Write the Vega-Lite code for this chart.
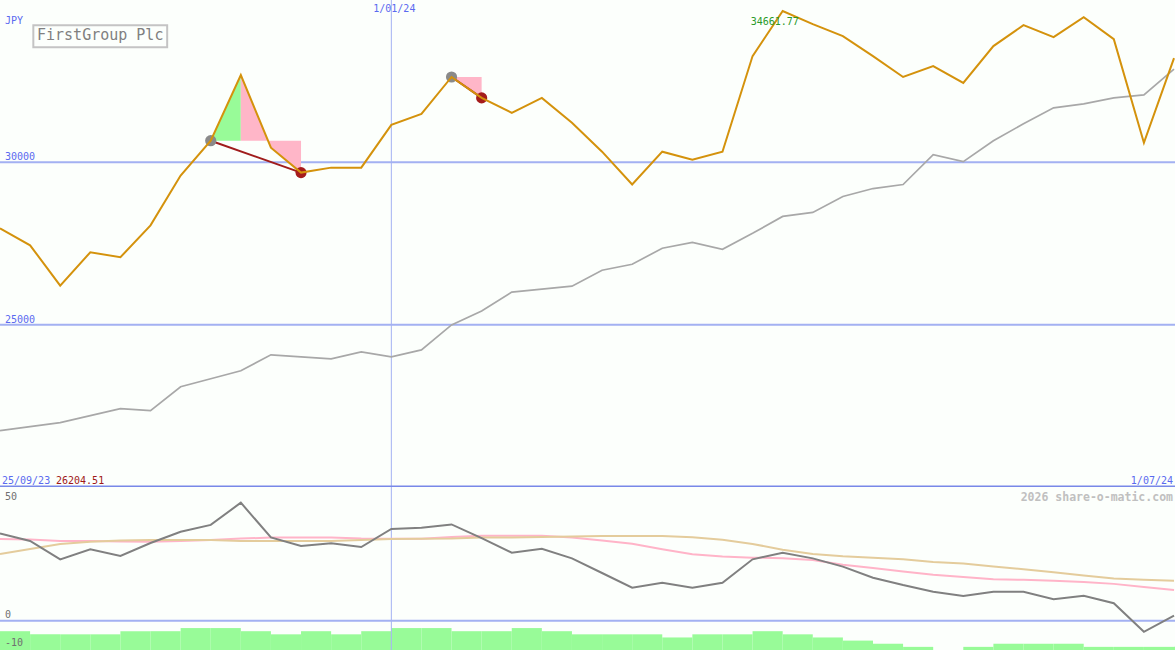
{
  "$schema": "https://vega.github.io/schema/vega-lite/v6.json",
  "padding": 0,
  "background": "#fcfffc",
  "bounds": "flush",
  "spacing": 0,
  "config": {
    "view": {"stroke": null},
    "axis": {"disable": true},
    "legend": {"disable": true},
    "scale": {"continuousPadding": 0},
    "text": {"font": "DejaVu Sans Mono", "fontSize": 10, "baseline": "alphabetic"}
  },
  "datasets": {
    "weeks": [
      {"date": "2023-10-02", "close": 27966, "trend": 21739, "osc": 37.0, "signal": 34.6, "slow": 28.3, "count": 6},
      {"date": "2023-10-09", "close": 27445, "trend": 21862, "osc": 33.8, "signal": 34.4, "slow": 30.4, "count": 5},
      {"date": "2023-10-16", "close": 26204.51, "trend": 21985, "osc": 26.0, "signal": 33.8, "slow": 32.5, "count": 5},
      {"date": "2023-10-23", "close": 27230, "trend": 22199, "osc": 30.3, "signal": 33.8, "slow": 33.5, "count": 5},
      {"date": "2023-10-30", "close": 27077, "trend": 22414, "osc": 27.4, "signal": 33.6, "slow": 34.0, "count": 6},
      {"date": "2023-11-06", "close": 28058, "trend": 22353, "osc": 32.9, "signal": 33.5, "slow": 34.2, "count": 6},
      {"date": "2023-11-13", "close": 29592, "trend": 23089, "osc": 37.7, "signal": 33.8, "slow": 34.2, "count": 7},
      {"date": "2023-11-20", "close": 30666, "trend": 23334, "osc": 40.6, "signal": 34.2, "slow": 34.2, "count": 7},
      {"date": "2023-11-27", "close": 32690, "trend": 23580, "osc": 50.0, "signal": 34.8, "slow": 33.8, "count": 6},
      {"date": "2023-12-04", "close": 30451, "trend": 24070, "osc": 35.3, "signal": 35.2, "slow": 33.8, "count": 5},
      {"date": "2023-12-11", "close": 29684, "trend": 24009, "osc": 31.7, "signal": 35.2, "slow": 33.8, "count": 6},
      {"date": "2023-12-18", "close": 29837, "trend": 23948, "osc": 32.8, "signal": 35.2, "slow": 33.8, "count": 5},
      {"date": "2023-12-25", "close": 29837, "trend": 24163, "osc": 31.2, "signal": 34.8, "slow": 34.2, "count": 6},
      {"date": "2024-01-01", "close": 31156, "trend": 24009, "osc": 38.9, "signal": 34.7, "slow": 34.6, "count": 7},
      {"date": "2024-01-08", "close": 31494, "trend": 24224, "osc": 39.4, "signal": 34.7, "slow": 34.7, "count": 7},
      {"date": "2024-01-15", "close": 32629, "trend": 24991, "osc": 40.8, "signal": 35.5, "slow": 34.8, "count": 6},
      {"date": "2024-01-22", "close": 31985, "trend": 25420, "osc": 35.0, "signal": 36.0, "slow": 35.2, "count": 6},
      {"date": "2024-01-29", "close": 31525, "trend": 26003, "osc": 28.8, "signal": 36.0, "slow": 35.2, "count": 7},
      {"date": "2024-02-05", "close": 31985, "trend": 26095, "osc": 30.5, "signal": 36.0, "slow": 35.5, "count": 6},
      {"date": "2024-02-12", "close": 31218, "trend": 26187, "osc": 26.4, "signal": 35.3, "slow": 35.7, "count": 5},
      {"date": "2024-02-19", "close": 30328, "trend": 26678, "osc": 20.2, "signal": 34.0, "slow": 35.9, "count": 5},
      {"date": "2024-02-26", "close": 29316, "trend": 26862, "osc": 14.0, "signal": 32.6, "slow": 35.9, "count": 5},
      {"date": "2024-03-04", "close": 30328, "trend": 27353, "osc": 16.1, "signal": 30.3, "slow": 35.9, "count": 4},
      {"date": "2024-03-11", "close": 30083, "trend": 27537, "osc": 14.0, "signal": 28.2, "slow": 35.4, "count": 5},
      {"date": "2024-03-18", "close": 30328, "trend": 27322, "osc": 16.1, "signal": 27.2, "slow": 34.3, "count": 5},
      {"date": "2024-03-25", "close": 33273, "trend": 27813, "osc": 26.0, "signal": 26.7, "slow": 32.5, "count": 6},
      {"date": "2024-04-01", "close": 34661.77, "trend": 28334, "osc": 28.8, "signal": 26.5, "slow": 30.1, "count": 5},
      {"date": "2024-04-08", "close": 34255, "trend": 28457, "osc": 26.4, "signal": 25.7, "slow": 28.3, "count": 4},
      {"date": "2024-04-15", "close": 33887, "trend": 28948, "osc": 22.9, "signal": 23.7, "slow": 27.3, "count": 3},
      {"date": "2024-04-22", "close": 33273, "trend": 29193, "osc": 18.2, "signal": 22.3, "slow": 26.7, "count": 2},
      {"date": "2024-04-29", "close": 32629, "trend": 29316, "osc": 15.1, "signal": 20.8, "slow": 26.0, "count": 1},
      {"date": "2024-05-06", "close": 32966, "trend": 30236, "osc": 12.3, "signal": 19.5, "slow": 24.9, "count": 0},
      {"date": "2024-05-13", "close": 32445, "trend": 30021, "osc": 10.5, "signal": 18.5, "slow": 24.2, "count": 1},
      {"date": "2024-05-20", "close": 33580, "trend": 30666, "osc": 12.3, "signal": 17.6, "slow": 23.0, "count": 2},
      {"date": "2024-05-27", "close": 34224, "trend": 31187, "osc": 12.3, "signal": 17.3, "slow": 21.8, "count": 2},
      {"date": "2024-06-03", "close": 33856, "trend": 31678, "osc": 9.1, "signal": 16.9, "slow": 20.5, "count": 2},
      {"date": "2024-06-10", "close": 34469, "trend": 31801, "osc": 10.6, "signal": 16.4, "slow": 19.1, "count": 1},
      {"date": "2024-06-17", "close": 33794, "trend": 31985, "osc": 7.4, "signal": 15.6, "slow": 17.9, "count": 1},
      {"date": "2024-06-24", "close": 30604, "trend": 32077, "osc": -4.7, "signal": 14.3, "slow": 17.3, "count": 1},
      {"date": "2024-07-01", "close": 33212, "trend": 32874, "osc": 2.1, "signal": 13.0, "slow": 16.9, "count": 1}
    ],
    "fills": [
      {"date": "2023-11-20", "close": 30666, "base": 30666, "kind": "rise", "leg": "a"},
      {"date": "2023-11-27", "close": 32690, "base": 30666, "kind": "rise", "leg": "a"},
      {"date": "2023-11-27", "close": 32690, "base": 30666, "kind": "fall", "leg": "b"},
      {"date": "2023-12-04", "close": 30451, "base": 30666, "kind": "fall", "leg": "b"},
      {"date": "2023-12-11", "close": 29684, "base": 30666, "kind": "fall", "leg": "b"},
      {"date": "2024-01-15", "close": 32629, "base": 32629, "kind": "fall", "leg": "c"},
      {"date": "2024-01-22", "close": 31985, "base": 32629, "kind": "fall", "leg": "c"}
    ],
    "trades": [
      {"date": "2023-11-20", "close": 30666, "event": "entry", "trade": 1},
      {"date": "2023-12-11", "close": 29684, "event": "exit", "trade": 1},
      {"date": "2024-01-15", "close": 32629, "event": "entry", "trade": 2},
      {"date": "2024-01-22", "close": 31985, "event": "exit", "trade": 2}
    ],
    "levels": [
      {"level": 30000, "label": "30000"},
      {"level": 25000, "label": "25000"}
    ],
    "one": [{}]
  },
  "vconcat": [
    {
      "width": 1175,
      "height": 487,
      "layer": [
        {
          "data": {"name": "levels"},
          "mark": {"type": "rule", "color": "#a3b1f2", "strokeWidth": 2, "clip": true},
          "encoding": {
            "y": {"field": "level", "type": "quantitative", "scale": {"domain": [20000, 35000], "nice": false, "zero": false}}
          }
        },
        {
          "data": {"name": "one"},
          "mark": {"type": "rule", "color": "#a3b1f2", "strokeWidth": 1, "clip": true},
          "encoding": {
            "x": {"datum": {"year": 2024, "month": 1, "date": 1, "utc": true}, "type": "temporal",
                  "scale": {"type": "utc", "nice": false, "padding": 0, "domain": [{"year": 2023, "month": 10, "date": 2, "utc": true}, {"year": 2024, "month": 7, "date": 1, "hours": 5, "minutes": 30, "utc": true}]}}
          }
        },
        {
          "data": {"name": "one"},
          "mark": {"type": "rule", "color": "#7888e8", "strokeWidth": 2, "clip": true},
          "encoding": {
            "y": {"datum": 20015, "type": "quantitative"}
          }
        },
        {
          "data": {"name": "fills"},
          "mark": {"type": "area", "opacity": 1, "clip": true},
          "encoding": {
            "x": {"field": "date", "type": "temporal"},
            "y": {"field": "close", "type": "quantitative"},
            "y2": {"field": "base"},
            "detail": {"field": "leg"},
            "color": {"field": "kind", "type": "nominal", "scale": {"domain": ["rise", "fall", "entry", "exit"], "range": ["#98fb98", "#ffb6c8", "#8a8a8a", "#a51c1c"]}}
          }
        },
        {
          "data": {"name": "trades"},
          "mark": {"type": "line", "color": "#a01c1c", "strokeWidth": 2, "clip": true},
          "encoding": {
            "x": {"field": "date", "type": "temporal"},
            "y": {"field": "close", "type": "quantitative"},
            "detail": {"field": "trade"}
          }
        },
        {
          "data": {"name": "weeks"},
          "mark": {"type": "line", "color": "#a8a8a8", "strokeWidth": 1.7, "clip": true},
          "encoding": {
            "x": {"field": "date", "type": "temporal"},
            "y": {"field": "trend", "type": "quantitative"}
          }
        },
        {
          "data": {"name": "trades"},
          "mark": {"type": "point", "filled": true, "opacity": 1, "size": 125},
          "encoding": {
            "x": {"field": "date", "type": "temporal"},
            "y": {"field": "close", "type": "quantitative"},
            "color": {"field": "event", "type": "nominal"}
          }
        },
        {
          "data": {"name": "weeks"},
          "mark": {"type": "line", "color": "#d4920c", "strokeWidth": 2, "clip": true},
          "encoding": {
            "x": {"field": "date", "type": "temporal"},
            "y": {"field": "close", "type": "quantitative"}
          }
        },
        {
          "data": {"name": "levels"},
          "mark": {"type": "text", "align": "left", "dx": 5, "dy": -2, "color": "#5a6af0"},
          "encoding": {
            "x": {"datum": {"year": 2023, "month": 10, "date": 2, "utc": true}, "type": "temporal"},
            "y": {"field": "level", "type": "quantitative"},
            "text": {"field": "label"}
          }
        },
        {
          "data": {"name": "one"},
          "mark": {"type": "text", "text": "JPY", "align": "left", "dx": 5, "dy": 24, "color": "#5a6af0"},
          "encoding": {
            "x": {"datum": {"year": 2023, "month": 10, "date": 2, "utc": true}, "type": "temporal"},
            "y": {"datum": 35000, "type": "quantitative"}
          }
        },
        {
          "data": {"name": "one"},
          "mark": {"type": "text", "text": "1/01/24", "align": "center", "dx": 3, "dy": 12, "color": "#5a6af0"},
          "encoding": {
            "x": {"datum": {"year": 2024, "month": 1, "date": 1, "utc": true}, "type": "temporal"},
            "y": {"datum": 35000, "type": "quantitative"}
          }
        },
        {
          "data": {"name": "one"},
          "mark": {"type": "rect", "filled": false, "stroke": "#c4c4c4", "strokeWidth": 2},
          "encoding": {
            "x": {"datum": {"year": 2023, "month": 10, "date": 9, "hours": 18, "utc": true}, "type": "temporal"},
            "x2": {"datum": {"year": 2023, "month": 11, "date": 9, "hours": 21, "utc": true}},
            "y": {"datum": 34221, "type": "quantitative"},
            "y2": {"datum": 33543}
          }
        },
        {
          "data": {"name": "one"},
          "mark": {"type": "text", "text": "FirstGroup Plc", "align": "left", "dx": 37, "dy": 40, "fontSize": 15, "color": "#808080"},
          "encoding": {
            "x": {"datum": {"year": 2023, "month": 10, "date": 2, "utc": true}, "type": "temporal"},
            "y": {"datum": 35000, "type": "quantitative"}
          }
        },
        {
          "data": {"name": "one"},
          "mark": {"type": "text", "text": "34661.77", "align": "left", "dx": -32, "dy": 14, "color": "#2a9a2a"},
          "encoding": {
            "x": {"datum": {"year": 2024, "month": 4, "date": 1, "utc": true}, "type": "temporal"},
            "y": {"datum": 34661.77, "type": "quantitative"}
          }
        },
        {
          "data": {"name": "one"},
          "mark": {"type": "text", "text": "25/09/23", "align": "left", "dx": 2, "dy": -3, "color": "#5a6af0"},
          "encoding": {
            "x": {"datum": {"year": 2023, "month": 10, "date": 2, "utc": true}, "type": "temporal"},
            "y": {"datum": 20000, "type": "quantitative"}
          }
        },
        {
          "data": {"name": "one"},
          "mark": {"type": "text", "text": "26204.51", "align": "left", "dx": 56, "dy": -3, "color": "#a01818"},
          "encoding": {
            "x": {"datum": {"year": 2023, "month": 10, "date": 2, "utc": true}, "type": "temporal"},
            "y": {"datum": 20000, "type": "quantitative"}
          }
        },
        {
          "data": {"name": "one"},
          "mark": {"type": "text", "text": "1/07/24", "align": "right", "dx": -2, "dy": -3, "color": "#5a6af0"},
          "encoding": {
            "x": {"datum": {"year": 2024, "month": 7, "date": 1, "hours": 5, "minutes": 30, "utc": true}, "type": "temporal"},
            "y": {"datum": 20000, "type": "quantitative"}
          }
        }
      ]
    },
    {
      "width": 1175,
      "height": 163,
      "resolve": {"scale": {"y": "independent"}},
      "layer": [
        {
          "data": {"name": "weeks"},
          "mark": {"type": "bar", "color": "#98fb98", "width": 30.1, "xOffset": 15.05, "clip": true},
          "encoding": {
            "x": {"field": "date", "type": "temporal",
                  "scale": {"type": "utc", "nice": false, "padding": 0, "domain": [{"year": 2023, "month": 10, "date": 2, "utc": true}, {"year": 2024, "month": 7, "date": 1, "hours": 5, "minutes": 30, "utc": true}]}},
            "y": {"field": "count", "type": "quantitative", "scale": {"domain": [0, 52], "nice": false, "zero": true}}
          }
        },
        {
          "layer": [
            {
              "data": {"name": "one"},
              "mark": {"type": "rule", "color": "#a3b1f2", "strokeWidth": 2, "clip": true},
              "encoding": {
                "y": {"datum": 0, "type": "quantitative", "scale": {"domain": [-12.42, 56.65], "nice": false, "zero": false}}
              }
            },
            {
              "data": {"name": "one"},
              "mark": {"type": "rule", "color": "#a3b1f2", "strokeWidth": 1, "clip": true},
              "encoding": {
                "x": {"datum": {"year": 2024, "month": 1, "date": 1, "utc": true}, "type": "temporal"}
              }
            },
            {
              "data": {"name": "weeks"},
              "mark": {"type": "line", "color": "#ffb4c8", "strokeWidth": 2, "clip": true},
              "encoding": {
                "x": {"field": "date", "type": "temporal"},
                "y": {"field": "signal", "type": "quantitative"}
              }
            },
            {
              "data": {"name": "weeks"},
              "mark": {"type": "line", "color": "#e4cc9c", "strokeWidth": 2, "clip": true},
              "encoding": {
                "x": {"field": "date", "type": "temporal"},
                "y": {"field": "slow", "type": "quantitative"}
              }
            },
            {
              "data": {"name": "weeks"},
              "mark": {"type": "line", "color": "#808080", "strokeWidth": 2, "clip": true},
              "encoding": {
                "x": {"field": "date", "type": "temporal"},
                "y": {"field": "osc", "type": "quantitative"}
              }
            },
            {
              "data": {"name": "one"},
              "mark": {"type": "text", "text": "50", "align": "left", "dx": 5, "dy": -2.5, "color": "#707070"},
              "encoding": {
                "x": {"datum": {"year": 2023, "month": 10, "date": 2, "utc": true}, "type": "temporal"},
                "y": {"datum": 50, "type": "quantitative"}
              }
            },
            {
              "data": {"name": "one"},
              "mark": {"type": "text", "text": "0", "align": "left", "dx": 5, "dy": -2.5, "color": "#707070"},
              "encoding": {
                "x": {"datum": {"year": 2023, "month": 10, "date": 2, "utc": true}, "type": "temporal"},
                "y": {"datum": 0, "type": "quantitative"}
              }
            },
            {
              "data": {"name": "one"},
              "mark": {"type": "text", "text": "-10", "align": "left", "dx": 5, "dy": 1.7, "color": "#707070"},
              "encoding": {
                "x": {"datum": {"year": 2023, "month": 10, "date": 2, "utc": true}, "type": "temporal"},
                "y": {"datum": -10, "type": "quantitative"}
              }
            },
            {
              "data": {"name": "one"},
              "mark": {"type": "text", "text": "2026 share-o-matic.com", "align": "right", "dx": -2, "dy": -2, "fontSize": 11.5, "fontWeight": "bold", "color": "#c0c0c0"},
              "encoding": {
                "x": {"datum": {"year": 2024, "month": 7, "date": 1, "hours": 5, "minutes": 30, "utc": true}, "type": "temporal"},
                "y": {"datum": 50, "type": "quantitative"}
              }
            }
          ]
        }
      ]
    }
  ]
}
